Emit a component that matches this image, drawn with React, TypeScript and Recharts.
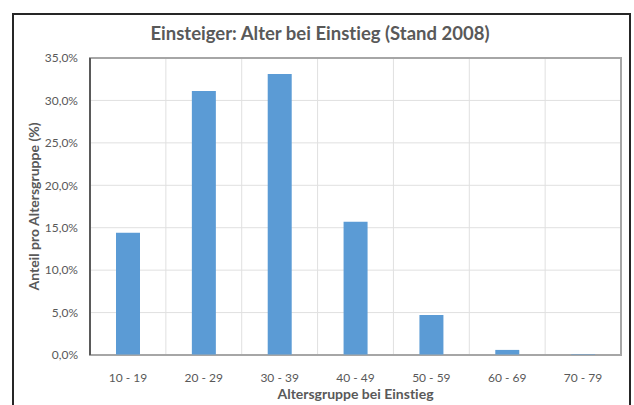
import React from 'react';
import { BarChart, Bar, XAxis, YAxis, CartesianGrid, ReferenceArea } from 'recharts';

const categories = ['10 - 19', '20 - 29', '30 - 39', '40 - 49', '50 - 59', '60 - 69', '70 - 79'];
const shares = [14.4, 31.1, 33.1, 15.7, 4.7, 0.6, 0.1];
const yTicks = [0, 5, 10, 15, 20, 25, 30, 35];

const data = categories.map((c, i) => ({ group: c, share: shares[i] }));

const FONT = 'Lato, "Open Sans", sans-serif';
const TEXT = '#595959';

const fmt = (v: number) => v.toFixed(1).replace('.', ',') + '%';

const YTitle = (props: any) => {
  const vb = props.viewBox || {};
  const x = vb.x + 3;
  const y = vb.y + vb.height / 2;
  return (
    <text x={x} y={y} transform={`rotate(-90, ${x}, ${y})`} textAnchor="middle" dominantBaseline="central"
      fill={TEXT} fontSize={14} fontWeight={700} fontFamily={FONT} style={{ fontVariantLigatures: 'none' }}>
      Anteil pro Altersgruppe (%)
    </text>
  );
};

export default function App() {
  return (
    <div style={{ position: 'absolute', left: 0, top: 0, width: 634, height: 405, overflow: 'hidden', background: '#fff', fontFamily: FONT, fontVariantLigatures: 'none' }}>
      <div style={{ position: 'absolute', left: 12, top: 13, width: 619, height: 420, border: '2px solid #262626', boxSizing: 'border-box' }} />
      <div style={{ position: 'absolute', left: 0, width: 640, top: 21, textAlign: 'center', fontSize: 18.5, fontWeight: 700, color: TEXT, lineHeight: '24px' }}>
        Einsteiger: Alter bei Einstieg (Stand 2008)
      </div>
      <div style={{ position: 'absolute', left: 0, top: 0 }}>
        <BarChart width={634} height={405} data={data} margin={{ top: 58, right: 13, bottom: 20, left: 30 }} barSize={24}>
          <CartesianGrid
            stroke="#e0e0e0"
            verticalCoordinatesGenerator={({ offset }: any) =>
              categories.map((_, i) => offset.left + (i * offset.width) / categories.length).concat([offset.left + offset.width])
            }
          />
          <ReferenceArea y1={0} y2={35} fill="none" stroke="#a6a6a6" strokeWidth={2} ifOverflow="visible" />
          <XAxis
            dataKey="group"
            height={30}
            tickLine={false}
            axisLine={{ stroke: '#a6a6a6', strokeWidth: 1 }}
            tick={{ fill: TEXT, fontSize: 12, fontFamily: FONT }}
            tickMargin={12}
            interval={0}
            label={{ value: 'Altersgruppe bei Einstieg', position: 'insideBottom', offset: -14, fill: TEXT, fontSize: 14, fontWeight: 700, fontFamily: FONT }}
          />
          <YAxis
            width={60}
            domain={[0, 35]}
            ticks={yTicks}
            tickFormatter={fmt}
            tickLine={false}
            axisLine={{ stroke: '#404040', strokeWidth: 1.5 }}
            tick={{ fill: TEXT, fontSize: 12, fontFamily: FONT }}
            tickMargin={6}
            label={<YTitle />}
          />
          <Bar dataKey="share" fill="#5b9bd5" isAnimationActive={false} />
        </BarChart>
      </div>
    </div>
  );
}
